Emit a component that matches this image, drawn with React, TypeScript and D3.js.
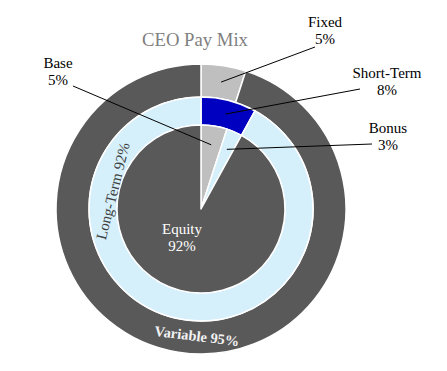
import React, { useEffect, useRef } from 'react';
import * as d3 from 'd3';

// ring data (percent of total pay)
const outerNames = ['Fixed', 'Variable'];
const outerValues = [5, 95];
const middleNames = ['Short-Term', 'Long-Term'];
const middleValues = [8, 92];
const innerNames = ['Base', 'Bonus', 'Equity'];
const innerValues = [5, 3, 92];

const colors: Record<string, string> = {
  Fixed: '#bfbfbf',
  Variable: '#595959',
  'Short-Term': '#0000c0',
  'Long-Term': '#d5effb',
  Base: '#bfbfbf',
  Bonus: '#d5effb',
  Equity: '#595959',
};

// callout label placement (layout only)
const callouts: Record<string, { x: number; y: number; lx: number; ly: number }> = {
  Fixed: { x: 325, y: 27, lx: 315, ly: 47 },
  'Short-Term': { x: 387, y: 78, lx: 360, ly: 89 },
  Bonus: { x: 388, y: 133, lx: 372, ly: 144 },
  Base: { x: 58, y: 68, lx: 73, ly: 86 },
};

const App = () => {
  const svgRef = useRef<SVGSVGElement>(null);

  useEffect(() => {
    const width = 447;
    const height = 371;
    const cx = 201;
    const cy = 209;
    const rPie = 84;
    const rMid = 112;
    const rOut = 145;
    const font = '"Liberation Serif", "Times New Roman", serif';

    const svgEl = d3.select(svgRef.current);
    svgEl.selectAll('*').remove();
    const svg = svgEl.attr('width', width).attr('height', height);

    svg.append('rect').attr('width', width).attr('height', height).attr('fill', '#fff');

    const g = svg.append('g').attr('transform', `translate(${cx},${cy})`);

    const pie = d3.pie<number>().sort(null).value(d => d);

    const rings = [
      { names: outerNames, values: outerValues, r0: rMid, r1: rOut, lr0: rMid, lr1: rOut },
      { names: middleNames, values: middleValues, r0: rPie, r1: rMid, lr0: rPie, lr1: rMid },
      { names: innerNames, values: innerValues, r0: 0, r1: rPie, lr0: 50, lr1: 80 },
    ];

    const anchors: Record<string, [number, number]> = {};

    rings.forEach(ring => {
      const arcs = pie(ring.values);
      const arc = d3.arc<d3.PieArcDatum<number>>().innerRadius(ring.r0).outerRadius(ring.r1);
      const labelArc = d3.arc<d3.PieArcDatum<number>>().innerRadius(ring.lr0).outerRadius(ring.lr1);
      g.append('g')
        .selectAll('path')
        .data(arcs)
        .enter()
        .append('path')
        .attr('d', arc)
        .attr('fill', (d, i) => colors[ring.names[i]])
        .attr('stroke', '#fff')
        .attr('stroke-width', 1.5)
        .attr('stroke-linejoin', 'round');
      arcs.forEach((d, i) => {
        anchors[ring.names[i]] = labelArc.centroid(d) as [number, number];
      });
    });

    const valueOf = (name: string) => {
      const all = [...outerNames, ...middleNames, ...innerNames];
      const vals = [...outerValues, ...middleValues, ...innerValues];
      return vals[all.indexOf(name)];
    };

    // title
    svg.append('text')
      .attr('x', 195)
      .attr('y', 46)
      .attr('text-anchor', 'middle')
      .attr('font-family', font)
      .attr('font-size', 18.7)
      .attr('fill', '#7f7f7f')
      .text('CEO Pay Mix');

    // callouts with leader lines
    Object.entries(callouts).forEach(([name, c]) => {
      const [ax, ay] = anchors[name];
      svg.append('line')
        .attr('x1', c.lx)
        .attr('y1', c.ly)
        .attr('x2', cx + ax)
        .attr('y2', cy + ay)
        .attr('stroke', '#000')
        .attr('stroke-width', 1);
      const t = svg.append('text')
        .attr('text-anchor', 'middle')
        .attr('font-family', font)
        .attr('font-size', 15)
        .attr('fill', '#000');
      t.append('tspan').attr('x', c.x).attr('y', c.y).text(name);
      t.append('tspan').attr('x', c.x).attr('y', c.y + 16.5).text(`${valueOf(name)}%`);
    });

    // in-chart labels
    const eq = svg.append('text')
      .attr('text-anchor', 'middle')
      .attr('font-family', font)
      .attr('font-size', 15)
      .attr('fill', '#fff');
    eq.append('tspan').attr('x', 182).attr('y', 234).text('Equity');
    eq.append('tspan').attr('x', 182).attr('y', 251).text(`${valueOf('Equity')}%`);

    svg.append('text')
      .attr('transform', 'translate(113,191) rotate(-76)')
      .attr('text-anchor', 'middle')
      .attr('dominant-baseline', 'central')
      .attr('font-family', font)
      .attr('font-size', 15)
      .attr('fill', '#404040')
      .text(`Long-Term ${valueOf('Long-Term')}%`);

    svg.append('text')
      .attr('transform', 'translate(197,336) rotate(7)')
      .attr('text-anchor', 'middle')
      .attr('dominant-baseline', 'central')
      .attr('font-family', font)
      .attr('font-size', 14.5)
      .attr('font-weight', 600)
      .attr('fill', '#f2f2f2')
      .text(`Variable ${valueOf('Variable')}%`);
  }, []);

  return <svg ref={svgRef} style={{ position: 'absolute', left: 0, top: 0 }}></svg>;
};

export default App;
